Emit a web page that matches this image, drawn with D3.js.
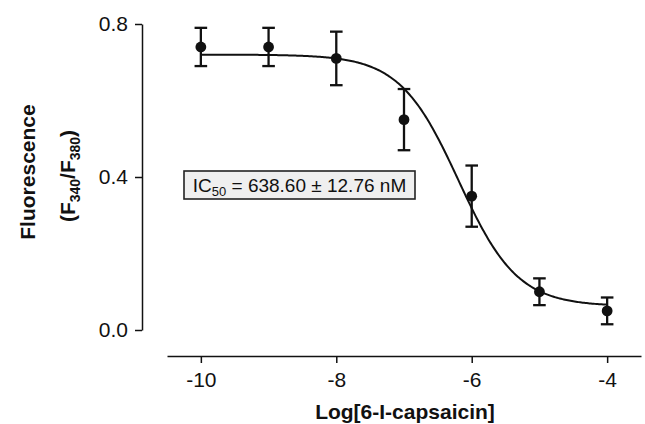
<!DOCTYPE html>
<html><head><meta charset="utf-8">
<script src="https://cdn.jsdelivr.net/npm/d3@7"></script>
<style>
html,body{margin:0;padding:0;background:#fff;}
svg{display:block;font-family:"Liberation Sans",Arial,Helvetica,sans-serif;}
</style></head>
<body>
<svg id="chart" width="645" height="424"></svg>
<script>
// Data
const logConc = [-10, -9, -8, -7, -6, -5, -4];
const meanFluor = [0.74, 0.74, 0.71, 0.55, 0.35, 0.10, 0.05];
const semFluor = [0.05, 0.05, 0.07, 0.08, 0.08, 0.035, 0.035];
const xTicks = [-10, -8, -6, -4];
const yTicks = [0.0, 0.4, 0.8];
// Fitted four-parameter logistic parameters (IC50 = 638.60 nM)
const fitTop = 0.72, fitBottom = 0.062, fitLogIC50 = Math.log10(638.60e-9), fitHill = 1.0;
const curveX = d3.range(-10, -4.0001, 0.02).concat([-4]);

const svg = d3.select("#chart");
const x = d3.scaleLinear().domain([-10.5, -3.5]).range([167, 641]);
const y = d3.scaleLinear().domain([0, 0.8]).range([330, 24]);
const ink = "#111";

// Y axis
const yAxis = svg.append("g").attr("transform", "translate(142,0)")
  .call(d3.axisLeft(y).tickValues(yTicks).tickFormat(d3.format(".1f")).tickSizeOuter(0).tickSizeInner(7).tickPadding(7));
// X axis
const xAxis = svg.append("g").attr("transform", "translate(0,356)")
  .call(d3.axisBottom(x).tickValues(xTicks).tickFormat(d => String(d)).tickSizeOuter(0).tickSizeInner(7).tickPadding(9));
[yAxis, xAxis].forEach(g => {
  g.select(".domain").attr("stroke", ink).attr("stroke-width", 1.5);
  g.selectAll(".tick line").attr("stroke", ink).attr("stroke-width", 1.5);
  g.selectAll(".tick text").attr("fill", ink).style("font-size", "21px").style("font-family", "'Liberation Sans',Arial,sans-serif");
});

// Fitted curve
const fit = v => fitBottom + (fitTop - fitBottom) / (1 + Math.pow(10, (v - fitLogIC50) * fitHill));
svg.append("path")
  .datum(curveX)
  .attr("fill", "none").attr("stroke", ink).attr("stroke-width", 2)
  .attr("d", d3.line().x(d => x(d)).y(d => y(fit(d))));

// Error bars and points
const pts = logConc.map((c, i) => ({c, m: meanFluor[i], e: semFluor[i]}));
const eb = svg.append("g").attr("stroke", ink).attr("stroke-width", 2.3);
pts.forEach(p => {
  eb.append("line").attr("x1", x(p.c)).attr("x2", x(p.c)).attr("y1", y(p.m - p.e)).attr("y2", y(p.m + p.e));
  [p.m - p.e, p.m + p.e].forEach(v => {
    eb.append("line").attr("x1", x(p.c) - 6.3).attr("x2", x(p.c) + 6.3).attr("y1", y(v)).attr("y2", y(v));
  });
});
svg.append("g").selectAll("circle").data(pts).join("circle")
  .attr("cx", d => x(d.c)).attr("cy", d => y(d.m)).attr("r", 5.4).attr("fill", ink);

// Axis titles
svg.append("text").attr("x", 405).attr("y", 419).attr("text-anchor", "middle")
  .style("font-size", "21px").style("font-weight", "bold").attr("fill", ink)
  .text("Log[6-I-capsaicin]");

const yl = svg.append("g").attr("fill", ink).style("font-weight", "bold").style("font-size", "21px");
yl.append("text").attr("transform", "translate(35,172) rotate(-90)").attr("text-anchor", "middle").text("Fluorescence");
const t2 = yl.append("text").attr("transform", "translate(75,176) rotate(-90)").attr("text-anchor", "middle");
t2.append("tspan").text("(F");
t2.append("tspan").attr("dy", 5).style("font-size", "14px").text("340");
t2.append("tspan").attr("dy", -5).text("/F");
t2.append("tspan").attr("dy", 5).style("font-size", "14px").text("380");
t2.append("tspan").attr("dy", -5).text(")");

// IC50 box
svg.append("rect").attr("x", 184).attr("y", 171).attr("width", 231).attr("height", 28)
  .attr("fill", "#efefef").attr("stroke", "#222").attr("stroke-width", 1.6);
const lab = svg.append("text").attr("x", 299.5).attr("y", 192).attr("text-anchor", "middle")
  .style("font-size", "19px").attr("fill", ink);
lab.append("tspan").text("IC");
lab.append("tspan").attr("dy", 4).style("font-size", "13px").text("50");
lab.append("tspan").attr("dy", -4).text(" = 638.60 ± 12.76 nM");
</script>
</body></html>
